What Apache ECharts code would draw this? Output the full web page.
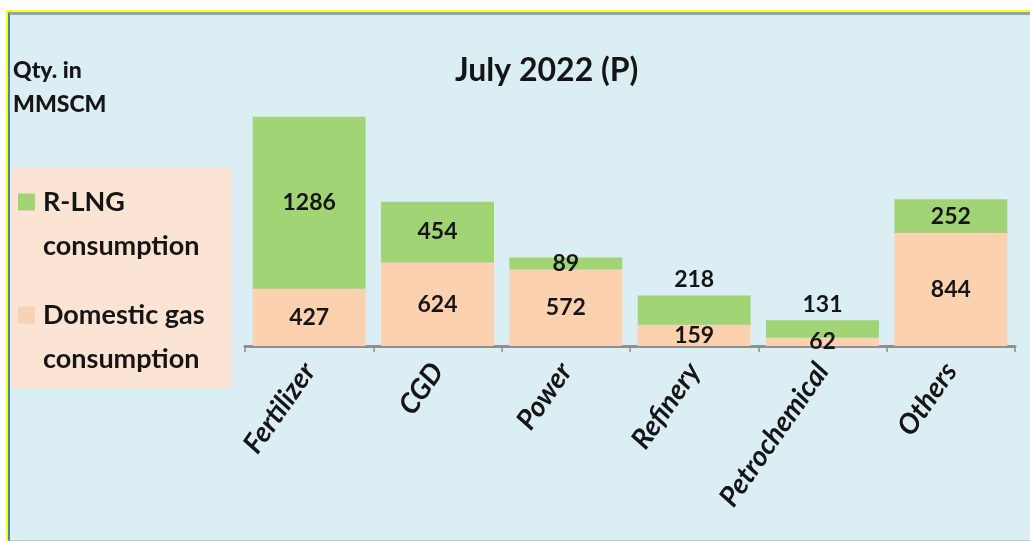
<!DOCTYPE html>
<html>
<head>
<meta charset="utf-8">
<script src="https://cdn.jsdelivr.net/npm/echarts@6/dist/echarts.min.js"></script>
<style>
  html, body { margin: 0; padding: 0; background: #ffffff; }
  #frame {
    position: absolute; left: 6px; top: 10px; width: 1024px; height: 531px;
    border-top: 2px solid #ffff00; border-left: 2px solid #ffff00;
    box-sizing: border-box;
  }
  #panel {
    position: absolute; left: 0; top: 0; right: 0; bottom: 0;
    background: #dbeef3;
    border-top: 3px solid #8aa3c2; border-left: 2px solid #4f81bd;
    border-bottom: 1px solid #c4ccd0;
  }
  #chart { position: absolute; left: 0; top: 0; width: 1030px; height: 542px; }
</style>
</head>
<body>
<div id="frame"><div id="panel"></div></div>
<div id="chart"></div>
<script>
// Sector-wise gas consumption, July 2022 (provisional), MMSCM
const sectors = ['Fertilizer', 'CGD', 'Power', 'Refinery', 'Petrochemical', 'Others'];
const domesticGas = [427, 624, 572, 159, 62, 844];
const rlng = [1286, 454, 89, 218, 131, 252];
const seriesNames = ['R-LNG consumption', 'Domestic gas consumption'];
// R-LNG segments too thin to hold their label print it above the bar
const rlngLabelAbove = ['Refinery', 'Petrochemical'];

const FONT = 'Lato';
const GREEN = '#a0d474';
const PEACH = '#fbd1b0';
const INK = '#151515';

const chart = echarts.init(document.getElementById('chart'), null, { renderer: 'canvas' });

const rlngData = rlng.map((v, i) => rlngLabelAbove.includes(sectors[i])
  ? { value: v, label: { position: 'top', distance: 4 } }
  : v);

const labelStyle = {
  show: true,
  position: 'inside',
  fontFamily: FONT,
  fontWeight: 'bold',
  fontSize: 23,
  color: INK
};

chart.setOption({
  animation: false,
  backgroundColor: 'transparent',
  textStyle: { fontFamily: FONT },
  title: [
    {
      text: 'July 2022 (P)',
      left: 450, top: 50,
      textStyle: { fontFamily: FONT, fontWeight: 'bold', fontSize: 32, color: INK }
    },
    {
      text: 'Qty. in\nMMSCM',
      left: 13, top: 54, padding: 0,
      textStyle: { fontFamily: FONT, fontWeight: 900, fontSize: 23, lineHeight: 34, color: INK }
    }
  ],
  legend: {
    orient: 'vertical',
    left: 10, top: 168,
    data: seriesNames,
    backgroundColor: '#fce4d5',
    padding: [12, 27, 7, 3],
    itemWidth: 0, itemHeight: 0, itemGap: 25,
    selectedMode: false,
    formatter: function (name) {
      const parts = name.split(' consumption');
      const sq = name.indexOf('R-LNG') === 0 ? 'sqG' : 'sqP';
      return '{' + sq + '|}{gap|}{t|' + parts[0] + '}\n{sp|}{t|consumption}';
    },
    textStyle: {
      fontFamily: FONT, fontWeight: 'bold', fontSize: 27, color: INK, lineHeight: 44,
      rich: {
        sqG: { width: 17, height: 17, backgroundColor: GREEN },
        sqP: { width: 17, height: 17, backgroundColor: '#f6d2b6' },
        gap: { width: 8 },
        sp: { width: 25 },
        t: { fontFamily: FONT, fontWeight: 'bold', fontSize: 27, color: INK, lineHeight: 44 }
      }
    }
  },
  grid: { left: 245, right: 15, top: 105, bottom: 196, containLabel: false },
  xAxis: {
    type: 'category',
    data: sectors,
    axisLine: { lineStyle: { color: '#8f8f8f', width: 3 } },
    axisTick: { show: true, length: 6, lineStyle: { color: '#8f8f8f', width: 1.5 } },
    axisLabel: {
      rotate: 55, margin: 20, interval: 0,
      fontFamily: FONT, fontStyle: 'italic', fontWeight: 'bold', fontSize: 28, color: INK
    }
  },
  yAxis: {
    type: 'value', min: 0, max: 1800, show: false,
    splitLine: { show: false }
  },
  series: [
    {
      name: seriesNames[1], type: 'bar', stack: 'gas',
      data: domesticGas, barCategoryGap: '12%',
      itemStyle: { color: PEACH },
      label: labelStyle
    },
    {
      name: seriesNames[0], type: 'bar', stack: 'gas',
      data: rlngData, barCategoryGap: '12%',
      itemStyle: { color: GREEN },
      label: labelStyle
    }
  ]
});
</script>
</body>
</html>
